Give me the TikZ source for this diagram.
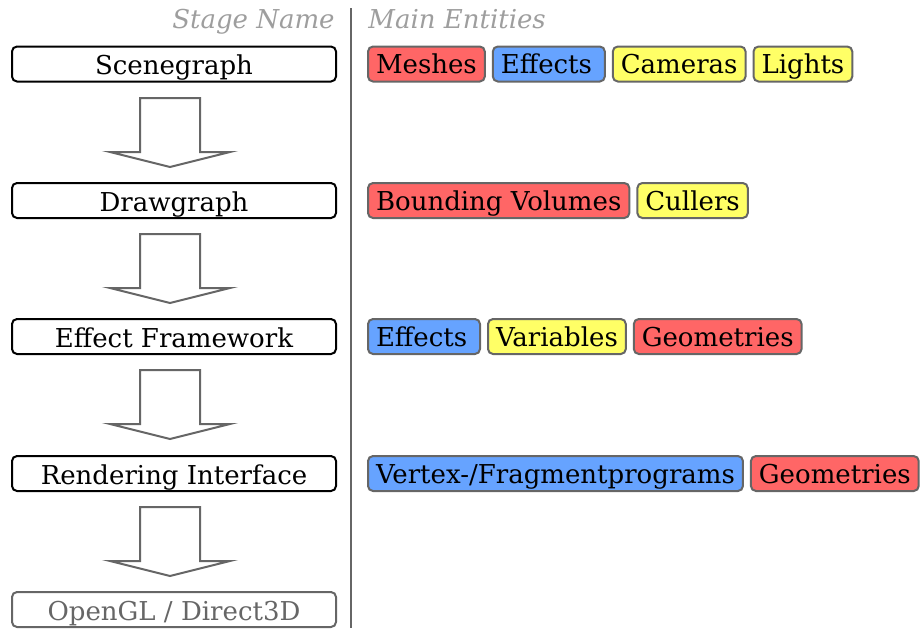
\documentclass[tikz,border=0pt]{standalone}
\usepackage{fontspec}
\setmainfont{DejaVu Serif}
\usetikzlibrary{positioning}

\definecolor{chipred}{HTML}{FF6666}
\definecolor{chipblue}{HTML}{66A3FF}
\definecolor{chipyellow}{HTML}{FFFF66}
\definecolor{edgegray}{HTML}{666666}
\definecolor{headgray}{HTML}{9E9E9E}

\tikzset{
  stage/.style={draw, line width=1pt, rounded corners=2.5pt, minimum width=162pt,
    minimum height=17.5pt, inner sep=0pt, text height=10.8pt, text depth=0.2pt,
    font=\fontsize{13}{15}\selectfont},
  chip/.style={draw=edgegray, line width=1pt, rounded corners=2.5pt, minimum height=17.5pt,
    inner xsep=4pt, inner ysep=0pt, text height=10.2pt, text depth=0.6pt,
    font=\fontsize{13}{15}\selectfont},
  heading/.style={text=headgray, inner sep=0pt, font=\fontsize{13}{15}\selectfont\itshape},
  stagearrow/.style={draw=edgegray, line width=1pt, fill=white}
}

\begin{document}
\begin{tikzpicture}[x=0.5pt,y=-0.5pt, node distance=3pt]
 \useasboundingbox (0,0) rectangle (920,628);
   \node (hstage) [heading, anchor=base east] at (335,28) {Stage Name};
   \node (hmain) [heading, anchor=base west] at (368,28) {Main Entities};
   \coordinate (top) at (351,8);
   \coordinate (bot) at (351,628);
   \draw[edgegray, line width=1pt] (top) -- (bot);
 % stages
   \node (sg) [stage] at (174,64) {Scenegraph};
   \node (dg) [stage] at (174,200.5) {Drawgraph};
   \node (ef) [stage] at (174,336.5) {Effect Framework};
   \node (ri) [stage] at (174,473.5) {Rendering Interface};
   \node (gl) [stage, draw=edgegray, text=edgegray] at (174,609.5) {OpenGL / Direct3D};
 % arrows between stages
   \foreach \y in {98,234,370,507}
     \draw[stagearrow] (140,\y) -- (200,\y) -- (200,\y+54) -- (230,\y+54) -- (170,\y+69)
        -- (110,\y+54) -- (140,\y+54) -- cycle;
 % entities
   \node (mesh) [chip, fill=chipred, anchor=west] at (367,64) {Meshes};
   \node (eff1) [chip, fill=chipblue, minimum width=56pt, text width=48pt, right=of mesh] {Effects};
   \node (cam) [chip, fill=chipyellow, right=of eff1] {Cameras};
   \node (light) [chip, fill=chipyellow, right=of cam] {Lights};

   \node (bv) [chip, fill=chipred, anchor=west] at (367,200.5) {Bounding Volumes};
   \node (cull) [chip, fill=chipyellow, right=of bv] {Cullers};

   \node (eff2) [chip, fill=chipblue, minimum width=56pt, text width=48pt, anchor=west] at (367,336.5) {Effects};
   \node (var) [chip, fill=chipyellow, right=of eff2] {Variables};
   \node (geo1) [chip, fill=chipred, right=of var] {Geometries};

   \node (vfp) [chip, fill=chipblue, anchor=west] at (367,473.5) {Vertex-/Fragmentprograms};
   \node (geo2) [chip, fill=chipred, right=of vfp] {Geometries};
\end{tikzpicture}
\end{document}
